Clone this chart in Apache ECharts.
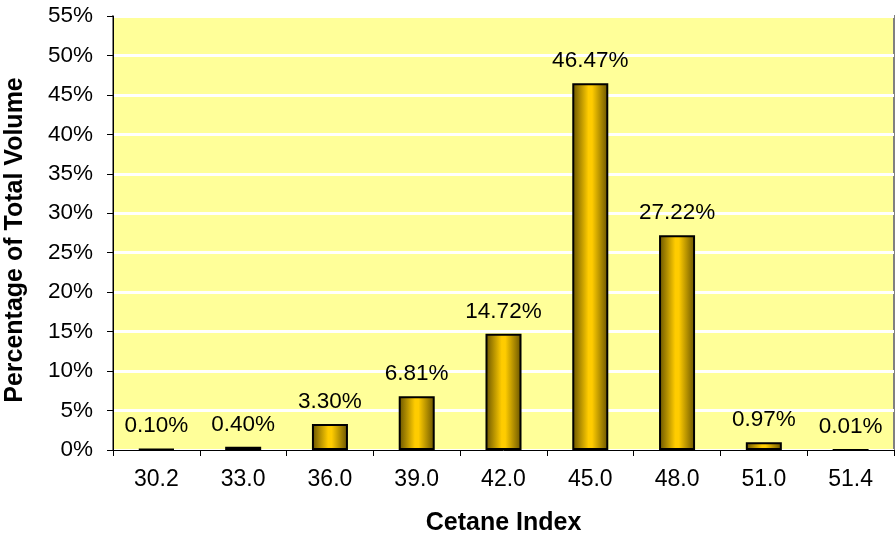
<!DOCTYPE html>
<html>
<head>
<meta charset="utf-8">
<script src="https://cdn.jsdelivr.net/npm/echarts@6/dist/echarts.min.js"></script>
<style>html,body{margin:0;padding:0;background:#fff}#c{width:896px;height:537px}</style>
</head>
<body>
<div id="c"></div>
<script>
const categories = ["30.2","33.0","36.0","39.0","42.0","45.0","48.0","51.0","51.4"];
const values = [0.10, 0.40, 3.30, 6.81, 14.72, 46.47, 27.22, 0.97, 0.01];
const yTitle = "Percentage of Total Volume";
const xTitle = "Cetane Index";

const chart = echarts.init(document.getElementById('c'), null, {renderer:'canvas'});
const font = 'Liberation Sans, Arial, sans-serif';
chart.setOption({
  animation: false,
  grid: {left:113, right:2, top:16, bottom:87, containLabel:false, outerBoundsMode:'none',
    show:true, backgroundColor:'#FFFF99', borderColor:'#808080', borderWidth:2},
  xAxis: {
    type:'category', data: categories,
    name: xTitle, nameLocation:'middle', nameGap:61,
    nameTextStyle:{fontFamily:font, fontSize:25, fontWeight:'bold', color:'#000'},
    axisLine:{lineStyle:{color:'#000', width:1}},
    axisTick:{show:true, alignWithLabel:false, length:6, lineStyle:{color:'#000'}},
    axisLabel:{fontFamily:font, fontSize:23, color:'#000', margin:18}
  },
  yAxis: {
    type:'value', min:0, max:55, interval:5,
    name: yTitle, nameLocation:'middle', nameGap:85,
    nameTextStyle:{fontFamily:font, fontSize:25, fontWeight:'bold', color:'#000', padding:[0,14,0,0]},
    axisLine:{show:true, lineStyle:{color:'#000', width:1}},
    axisTick:{show:true, length:6, lineStyle:{color:'#000'}},
    axisLabel:{fontFamily:font, fontSize:22.5, color:'#000', margin:20, formatter: v => v + '%'},
    splitLine:{show:true, lineStyle:{color:'#ffffff', width:3}}
  },
  series: [{
    type:'bar', data: values, barWidth:'41.5%',
    itemStyle:{
      borderColor:'#000', borderWidth:2,
      color: new echarts.graphic.LinearGradient(0,0,1,0,[
        {offset:0, color:'#665200'},
        {offset:0.45, color:'#FFCC00'},
        {offset:0.55, color:'#FFCC00'},
        {offset:1, color:'#665200'}
      ])
    },
    label:{show:true, position:'top', distance:11, fontFamily:font, fontSize:22.5, color:'#000',
      formatter: p => p.value.toFixed(2) + '%'}
  }]
});
</script>
</body>
</html>
